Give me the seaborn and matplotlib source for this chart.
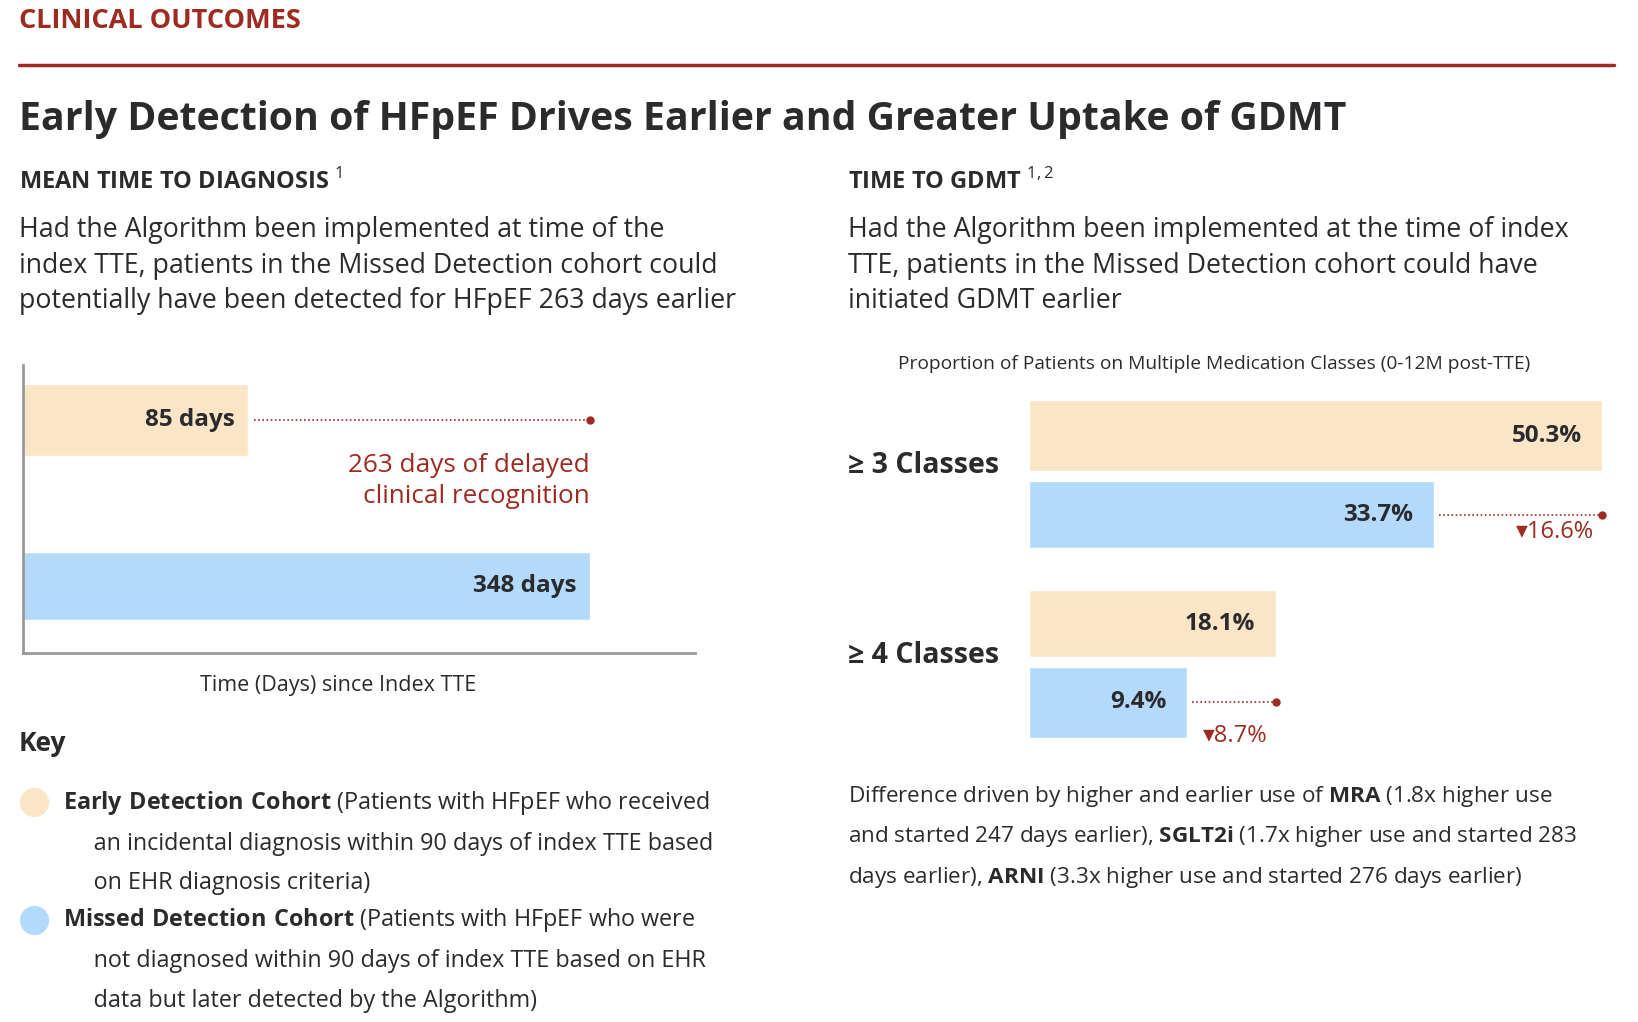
import matplotlib
matplotlib.use("Agg")
import matplotlib.pyplot as plt
import seaborn as sns
import pandas as pd

sns.set_theme(style="white")
plt.rcParams['font.family'] = ['Open Sans', 'DejaVu Sans']
plt.rcParams['mathtext.fontset'] = 'custom'
plt.rcParams['mathtext.bf'] = 'Open Sans:bold'
plt.rcParams['mathtext.rm'] = 'Open Sans'

# ---- data ----
left_labels = ["85 days", "348 days"]
left_cohorts = ["Early Detection", "Missed Detection"]
left_days = [85, 348]
delay_days = 263

right_groups = ["≥ 3 Classes", "≥ 4 Classes"]
early_pct = [50.3, 18.1]
missed_pct = [33.7, 9.4]
diff_pct = [16.6, 8.7]

RED = "#9E2A20"
BEIGE = "#FAE6C6"
BLUE = "#B3DAFB"
DARK = "#2B2B2E"

W, H = 1638, 1022
S = 1.05
fig = plt.figure(figsize=(W/100, H/100), dpi=100)

def fx(x): return x*S/W
def fy(y): return 1 - y*S/H

def txt(x, y, s, **kw):
    kw.setdefault("color", DARK)
    kw.setdefault("va", "center")
    fig.text(fx(x), fy(y), s, **kw)

txt(18, 20, "CLINICAL OUTCOMES", fontsize=19.5, fontweight="bold", color=RED)
fig.add_artist(plt.Line2D([fx(18), fx(1537)], [fy(62), fy(62)], color=RED, lw=2.5))
txt(18, 114, "Early Detection of HFpEF Drives Earlier and Greater Uptake of GDMT", fontsize=28.3, fontweight="bold")
txt(18, 173, "MEAN TIME TO DIAGNOSIS $^{1}$", fontsize=17, fontweight="bold")
txt(808, 173, "TIME TO GDMT $^{1,2}$", fontsize=17, fontweight="bold")
txt(18, 253, "Had the Algorithm been implemented at time of the\nindex TTE, patients in the Missed Detection cohort could\npotentially have been detected for HFpEF 263 days earlier",
    fontsize=19.3, linespacing=1.35)
txt(808, 253, "Had the Algorithm been implemented at the time of index\nTTE, patients in the Missed Detection cohort could have\ninitiated GDMT earlier",
    fontsize=19.3, linespacing=1.35)

# ---- left chart ----
off = 88
axL = fig.add_axes([fx(22), fy(622), fx(662)-fx(22), fy(348)-fy(622)])
heights = [0.43, 0.41]
for i, (d, c) in enumerate(zip(left_days, [BEIGE, BLUE])):
    axL.barh(i, d + off, left=-off, height=heights[i], color=c)
    axL.text(d - 10, i, left_labels[i], ha="right", va="center", fontsize=17.5, fontweight="bold", color=DARK)
axL.set_xlim(-off, 429)
axL.set_ylim(1.405, -0.33)
axL.set_yticks([]); axL.set_xticks([])
sns.despine(ax=axL, top=True, right=True)
for sp in ["left", "bottom"]:
    axL.spines[sp].set_color("#999999"); axL.spines[sp].set_linewidth(2)
axL.plot([left_days[0] + 5, left_days[1]], [0, 0], ls=(0, (1, 1.5)), color=RED, lw=1.2)
axL.plot([left_days[1]], [0], "o", color=RED, ms=5)
axL.text(left_days[1], 0.367, f"{delay_days} days of delayed\nclinical recognition", ha="right",
         va="center", fontsize=18.8, color=RED, linespacing=1.35)
txt(322, 653, "Time (Days) since Index TTE", fontsize=15.5, ha="center")

# ---- key ----
txt(18, 708, "Key", fontsize=19, fontweight="bold")
for y, col, head, rest in [(764, BEIGE, "Early Detection Cohort", " (Patients with HFpEF who received\n     an incidental diagnosis within 90 days of index TTE based\n     on EHR diagnosis criteria)"),
                           (876, BLUE, "Missed Detection Cohort", " (Patients with HFpEF who were\n     not diagnosed within 90 days of index TTE based on EHR\n     data but later detected by the Algorithm)")]:
    fig.add_artist(plt.Line2D([fx(32)], [fy(y)], marker="o", ms=20, color=col, transform=fig.transFigure))
    fig.text(fx(60), fy(y - 13), r"$\bf{" + head.replace(" ", r"\ ") + "}$" + rest, fontsize=16.8,
             color=DARK, va="top", linespacing=1.85)

# ---- right chart ----
txt(1156, 347, "Proportion of Patients on Multiple Medication Classes (0-12M post-TTE)", fontsize=13.8, ha="center")
axR = fig.add_axes([fx(980), fy(710), fx(1526)-fx(980), fy(378)-fy(710)])
roff = 6.2
pos_e = [0.0, 1.79]
pos_m = [0.75, 2.54]
h_e = [0.68, 0.64]
h_m = [0.64, 0.68]
lab_dy = [0.17, 0.32]
for i in range(2):
    axR.barh(pos_e[i], early_pct[i] + roff, left=-roff, height=h_e[i], color=BEIGE)
    axR.barh(pos_m[i], missed_pct[i] + roff, left=-roff, height=h_m[i], color=BLUE)
    axR.text(early_pct[i] - 2, pos_e[i], f"{early_pct[i]}%", ha="right", va="center", fontsize=17.5, fontweight="bold", color=DARK)
    axR.text(missed_pct[i] - 2, pos_m[i], f"{missed_pct[i]}%", ha="right", va="center", fontsize=17.5, fontweight="bold", color=DARK)
    axR.plot([missed_pct[i] + 0.5, early_pct[i]], [pos_m[i]] * 2, ls=(0, (1, 1.5)), color=RED, lw=1.2, clip_on=False)
    axR.plot([early_pct[i]], [pos_m[i]], "o", color=RED, ms=5, clip_on=False)
    axR.text(early_pct[i] - 0.8, pos_m[i] + lab_dy[i], f"▾{diff_pct[i]}%", ha="right", va="center", fontsize=17, color=RED)
axR.set_xlim(-roff, early_pct[0])
axR.set_ylim(2.95, -0.37)
axR.axis("off")
txt(808, 443, right_groups[0], fontsize=20.5, fontweight="bold")
txt(808, 624, right_groups[1], fontsize=20.5, fontweight="bold")

txt(808, 797, r"Difference driven by higher and earlier use of $\bf{MRA}$ (1.8x higher use" "\n"
    r"and started 247 days earlier), $\bf{SGLT2i}$ (1.7x higher use and started 283" "\n"
    r"days earlier), $\bf{ARNI}$ (3.3x higher use and started 276 days earlier)",
    fontsize=16.2, linespacing=1.85)

fig.savefig("out.png", dpi=100, facecolor="white")
